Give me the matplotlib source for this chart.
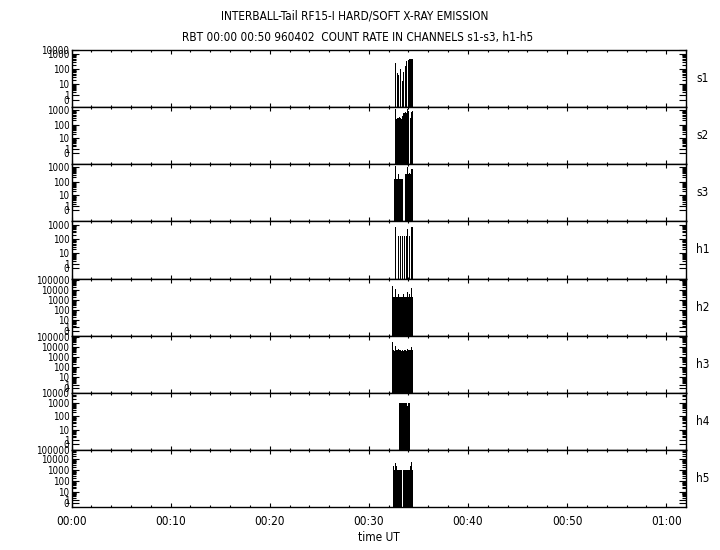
import numpy as np
import matplotlib
matplotlib.use("Agg")
import matplotlib.pyplot as plt
from matplotlib.ticker import FixedLocator, MultipleLocator, NullFormatter

plt.rcParams['font.family'] = ['DejaVu Sans']
plt.rcParams['font.stretch'] = 'condensed'

# sample times in minutes after 00:00 UT
times = [32.3, 32.4, 32.5, 32.6, 32.7, 32.8, 32.9, 33.0, 33.1, 33.2, 33.3, 33.4,
         33.5, 33.6, 33.7, 33.8, 33.9, 34.0, 34.1, 34.2, 34.3, 34.4, 34.5]

N = None
s1 = [N, N, N, N, 260, N, 57, 40, N, 100, N, 16, 67, N, 160, 340, N, 400, 460, 460, 460, 460, N]
s2 = [N, N, N, N, 1300, 250, 280, 300, 350, 300, 250, 400, 600, 650, 800, 600, 1300, 900, N, 300, 700, 860, N]
s3 = [N, N, N, 150, 1200, 150, 150, 370, 150, 150, 150, 150, N, N, 330, 330, 1000, 330, 400, 330, 800, 830, N]
h1 = [N, N, N, N, 700, N, N, 160, N, 160, N, 160, N, 160, N, 160, 500, N, 160, N, 700, 700, N]
h2 = [N, 25000, 2150, 2150, 12000, 2150, 2150, 3400, 2150, 2150, 2150, 2150, 3400, 2150, 2150, 2150,
      6600, 2150, 3400, 2150, 14000, 2150, N]
h3 = [N, 27000, 5000, 4000, 13000, 5000, 5000, 6000, 5000, 5000, 3500, 5000, 3500, 5000, 5000, 3500,
      6000, 5000, 5000, 5000, 9000, 5000, N]
h4 = [N, N, N, N, N, N, N, N, 900, 900, 900, 900, 900, 900, 900, 900, 600, 900, 900, N, N, N, N]
h5 = [N, N, 2300, 940, 4300, 2300, 940, 940, 940, 940, 940, N, 940, 940, 940, 940, 940, 940, 940,
      2300, 5300, 940, N]

channels = ['s1', 's2', 's3', 'h1', 'h2', 'h3', 'h4', 'h5']
series = [s1, s2, s3, h1, h2, h3, h4, h5]
# axis range (counts) and labelled decades per panel
y_bottom = [-0.676, -0.83, -0.83, -0.81, -0.684, -0.684, -0.637, -0.563]
y_top = [1818, 1659, 1659, 1777, 125892, 125892, 5370, 66069]
top_label = ['10000', '', '', '', '', '', '10000', '100000']
decades = [[0, 1, 10, 100, 1000],
           [0, 1, 10, 100, 1000],
           [0, 1, 10, 100, 1000],
           [0, 1, 10, 100, 1000],
           [0, 1, 10, 100, 1000, 10000, 100000],
           [0, 1, 10, 100, 1000, 10000, 100000],
           [0, 1, 10, 100, 1000],
           [0, 1, 10, 100, 1000, 10000]]

x_ticks = [0, 10, 20, 30, 40, 50, 60]
x_labels = ['00:00', '00:10', '00:20', '00:30', '00:40', '00:50', '01:00']


def fwd(x):
    return np.log10(np.clip(x, -0.999999, None) + 1)


def inv(y):
    return 10 ** y - 1


fig = plt.figure(figsize=(7.2, 5.5), dpi=100)
left, right, top, bottom = 71.5 / 720, 686 / 720, 1 - 50 / 550, 1 - 507 / 550
h = (top - bottom) / len(channels)

t = np.array(times)
for k, name in enumerate(channels):
    ax = fig.add_axes([left, top - (k + 1) * h, right - left, h])
    ax.set_yscale('function', functions=(fwd, inv))
    ax.set_ylim(y_bottom[k], y_top[k])
    ax.set_xlim(0, 62)

    vals = np.array([np.nan if v is None else v for v in series[k]], dtype=float)
    ok = ~np.isnan(vals)
    ax.bar(t[ok], vals[ok] - y_bottom[k], bottom=y_bottom[k], width=0.1,
           color='black', linewidth=0, align='center')

    ticks = list(decades[k])
    labels = [str(v) for v in decades[k]]
    if top_label[k]:
        ticks.append(y_top[k])
        labels.append(top_label[k])
    ax.yaxis.set_major_locator(FixedLocator(ticks))
    ax.set_yticklabels(labels)
    minors = [m * d for d in decades[k][1:] for m in range(2, 10) if m * d < y_top[k]]
    ax.yaxis.set_minor_locator(FixedLocator(minors))
    ax.yaxis.set_minor_formatter(NullFormatter())

    ax.xaxis.set_major_locator(FixedLocator(x_ticks))
    ax.xaxis.set_minor_locator(MultipleLocator(2))
    ax.tick_params(axis='both', which='both', direction='in', top=True, right=True,
                   width=0.8, colors='black')
    ax.tick_params(axis='x', which='major', length=3.2)
    ax.tick_params(axis='x', which='minor', length=1.6)
    ax.tick_params(axis='y', which='major', length=5, pad=1.5, labelsize=7)
    ax.tick_params(axis='y', which='minor', length=3)
    for sp in ax.spines.values():
        sp.set_linewidth(1.0)

    if k == len(channels) - 1:
        ax.set_xticklabels(x_labels, fontsize=8.5)
        ax.tick_params(axis='x', which='major', pad=6)
        ax.set_xlabel('time UT', fontsize=8.5, labelpad=2)
    else:
        ax.set_xticklabels([])

    ax.text(1.017, 0.5, name, transform=ax.transAxes, va='center', ha='left', fontsize=8.5)

fig.text(0.493, 1 - 16 / 550, 'INTERBALL-Tail RF15-I HARD/SOFT X-RAY EMISSION',
         ha='center', va='center', fontsize=8.5)
fig.text(0.496, 1 - 37 / 550, 'RBT 00:00 00:50 960402  COUNT RATE IN CHANNELS s1-s3, h1-h5',
         ha='center', va='center', fontsize=8.5)

fig.savefig('out.png', dpi=100)
